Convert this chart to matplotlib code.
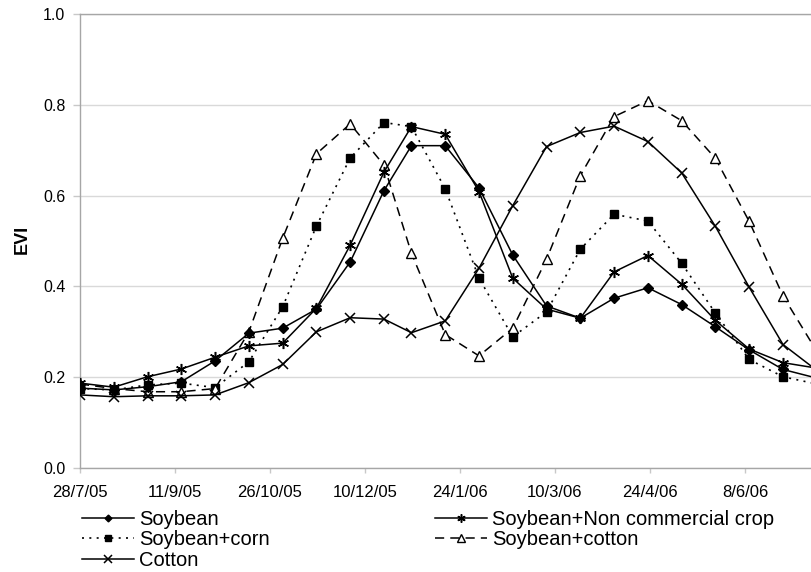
import matplotlib
matplotlib.use("Agg")
import matplotlib.pyplot as plt
from datetime import datetime

plt.rcParams['font.family'] = ['Liberation Sans', 'DejaVu Sans']

# 16-day composite dates
dates = ["2005-07-28", "2005-08-13", "2005-08-29", "2005-09-14", "2005-09-30",
         "2005-10-16", "2005-11-01", "2005-11-17", "2005-12-03", "2005-12-19",
         "2006-01-01", "2006-01-17", "2006-02-02", "2006-02-18", "2006-03-06",
         "2006-03-22", "2006-04-07", "2006-04-23", "2006-05-09", "2006-05-25",
         "2006-06-10", "2006-06-26", "2006-07-12"]

soybean = [0.176, 0.172, 0.179, 0.190, 0.236, 0.297, 0.308, 0.350, 0.454, 0.611,
           0.710, 0.710, 0.617, 0.469, 0.357, 0.330, 0.374, 0.397, 0.360, 0.311,
           0.260, 0.217, 0.198]
soy_ncc = [0.187, 0.178, 0.201, 0.218, 0.244, 0.269, 0.275, 0.352, 0.491, 0.652,
           0.752, 0.735, 0.609, 0.418, 0.350, 0.330, 0.432, 0.468, 0.405, 0.325,
           0.262, 0.232, 0.220]
soy_corn = [0.175, 0.172, 0.183, 0.187, 0.177, 0.234, 0.355, 0.533, 0.683, 0.761,
            0.752, 0.615, 0.418, 0.289, 0.344, 0.482, 0.559, 0.544, 0.451, 0.341,
            0.239, 0.201, 0.185]
soy_cotton = [0.185, 0.175, 0.168, 0.168, 0.175, 0.300, 0.506, 0.692, 0.758, 0.667,
              0.473, 0.294, 0.247, 0.308, 0.460, 0.644, 0.774, 0.809, 0.765, 0.682,
              0.543, 0.379, 0.257]
cotton = [0.161, 0.157, 0.159, 0.159, 0.161, 0.188, 0.228, 0.300, 0.331, 0.328,
          0.298, 0.324, 0.440, 0.578, 0.708, 0.739, 0.753, 0.719, 0.650, 0.532,
          0.398, 0.272, 0.215]

tick_dates = ["2005-07-28", "2005-09-11", "2005-10-26", "2005-12-10",
              "2006-01-24", "2006-03-10", "2006-04-24", "2006-06-08"]
tick_labels = ["28/7/05", "11/9/05", "26/10/05", "10/12/05",
               "24/1/06", "10/3/06", "24/4/06", "8/6/06"]
x_max_date = "2006-07-23"
y_ticks = [0.0, 0.2, 0.4, 0.6, 0.8, 1.0]
y_tick_labels = ["0.0", "0.2", "0.4", "0.6", "0.8", "1.0"]

x = [datetime.strptime(d, "%Y-%m-%d") for d in dates]
xt = [datetime.strptime(d, "%Y-%m-%d") for d in tick_dates]
xmax = datetime.strptime(x_max_date, "%Y-%m-%d")

W, H = 812, 572
fig = plt.figure(figsize=(W / 100, H / 100), dpi=100)
ax_left, ax_right, ax_top, ax_bot = 80, 840, 14, 468
ax = fig.add_axes([ax_left / W, 1 - ax_bot / H, (ax_right - ax_left) / W, (ax_bot - ax_top) / H])

lw = 1.1
l_soy, = ax.plot(x, soybean, color='black', lw=lw, marker='D', ms=4.6,
                 mfc='black', mec='black', label='Soybean', zorder=5)
l_ncc, = ax.plot(x, soy_ncc, color='black', lw=lw, marker=(6, 2, 0), ms=8,
                 mew=1.1, mec='black', label='Soybean+Non commercial crop', zorder=5)
l_corn, = ax.plot(x, soy_corn, color='black', lw=1.2, ls=(0, (1.2, 3.2)), marker='s', ms=5.2,
                  mfc='black', mec='black', label='Soybean+corn', zorder=4)
l_sct, = ax.plot(x, soy_cotton, color='black', lw=lw, ls=(0, (6, 4)), marker='^', ms=7,
                 mfc='white', mec='black', mew=1.0, label='Soybean+cotton', zorder=4)
l_cot, = ax.plot(x, cotton, color='black', lw=lw, marker='x', ms=7, mew=1.1,
                 mec='black', label='Cotton', zorder=5)

ax.set_xlim(xt[0], xmax)
ax.set_ylim(0, 1.0)
ax.set_xticks(xt)
ax.set_xticklabels(tick_labels)
ax.set_yticks(y_ticks)
ax.set_yticklabels(y_tick_labels)

ax.yaxis.grid(True, color='#d9d9d9', lw=1.0)
ax.set_axisbelow(True)
for s in ['left', 'bottom', 'top']:
    ax.spines[s].set_color('#a6a6a6')
    ax.spines[s].set_linewidth(1.0)
ax.spines['right'].set_visible(False)

ax.tick_params(axis='x', direction='out', length=3.5, width=1.0, color='#c8c8c8',
               pad=8.5, labelsize=12, labelcolor='black')
ax.tick_params(axis='y', direction='out', length=5, width=1.0, color='#c8c8c8',
               pad=5.5, labelsize=11.5, labelcolor='black')

fig.text(22 / W, 1 - 239 / H, 'EVI', rotation=90, ha='center', va='center',
         fontsize=13, fontweight='bold')

leg_kw = dict(frameon=False, loc='upper left', fontsize=14.5, handlelength=2.6,
              handletextpad=0.25, labelspacing=0.07, borderpad=0, borderaxespad=0,
              markerscale=0.75)
leg1 = fig.legend([l_soy, l_corn, l_cot], ['Soybean', 'Soybean+corn', 'Cotton'],
                  bbox_to_anchor=(82 / W, 1 - 510 / H), **leg_kw)
leg2 = fig.legend([l_ncc, l_sct], ['Soybean+Non commercial crop', 'Soybean+cotton'],
                  bbox_to_anchor=(435 / W, 1 - 510 / H), **leg_kw)

fig.savefig('out.png', dpi=100)
